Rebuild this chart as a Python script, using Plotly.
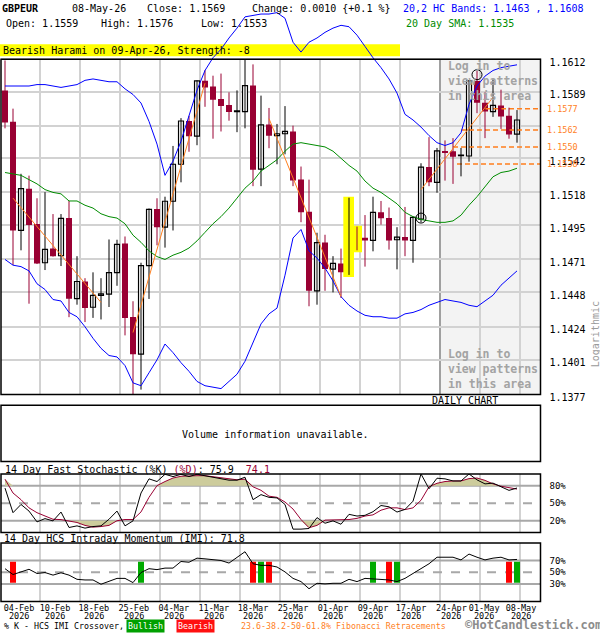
import math
import plotly.graph_objects as go

# ---------------- data ----------------
opens = [1.15899, 1.15678, 1.14913, 1.15206, 1.14959, 1.14687, 1.14786, 1.14736, 1.15000, 1.14436,
         1.14556, 1.14376, 1.14459, 1.14468, 1.14618, 1.14821, 1.14309, 1.14049, 1.14667, 1.15063,
         1.14936, 1.15118, 1.15378, 1.15683, 1.15576, 1.15968, 1.15926, 1.15839, 1.15795, 1.15749,
         1.15749, 1.15933, 1.15344, 1.15659, 1.15579, 1.15593, 1.15609, 1.15270, 1.15044, 1.14491,
         1.14828, 1.14643, 1.14682, 1.14620, 1.14931, 1.14862, 1.14843, 1.15040, 1.15000, 1.14848,
         1.14867, 1.14843, 1.14993, 1.15358, 1.15251, 1.15472, 1.15470, 1.15438, 1.15436, 1.15966,
         1.15811, 1.15749, 1.15793, 1.15719, 1.15590]
highs = [1.16111, 1.15770, 1.15311, 1.15298, 1.15139, 1.15182, 1.15028, 1.15028, 1.15120, 1.14733,
         1.14579, 1.14620, 1.14579, 1.14850, 1.14848, 1.14871, 1.14418, 1.14687, 1.15067, 1.15139,
         1.15150, 1.15507, 1.15703, 1.15719, 1.15970, 1.16042, 1.16003, 1.16018, 1.15885, 1.15899,
         1.16115, 1.16083, 1.15862, 1.15775, 1.15662, 1.15788, 1.15650, 1.15362, 1.15270, 1.14897,
         1.14883, 1.14733, 1.14786, 1.15143, 1.14940, 1.15021, 1.15150, 1.15120, 1.15074, 1.14936,
         1.15078, 1.15010, 1.15385, 1.15569, 1.15493, 1.15546, 1.15562, 1.15493, 1.15970, 1.16037,
         1.15885, 1.15977, 1.15904, 1.15777, 1.15760]
lows = [1.15631, 1.14671, 1.14774, 1.14401, 1.14678, 1.14636, 1.14730, 1.14664, 1.14307, 1.14394,
        1.14273, 1.14302, 1.14291, 1.14378, 1.14526, 1.14180, 1.13772, 1.13803, 1.14434, 1.14809,
        1.14793, 1.14913, 1.15251, 1.15466, 1.15512, 1.15783, 1.15558, 1.15609, 1.15685, 1.15604,
        1.15631, 1.15224, 1.15224, 1.15491, 1.15378, 1.15448, 1.15224, 1.14971, 1.14383, 1.14394,
        1.14491, 1.14480, 1.14441, 1.14602, 1.14774, 1.14660, 1.14767, 1.14954, 1.14779, 1.14641,
        1.14733, 1.14687, 1.14971, 1.15224, 1.15178, 1.15263, 1.15240, 1.15293, 1.15396, 1.15738,
        1.15562, 1.15712, 1.15627, 1.15558, 1.15530]
closes = [1.15673, 1.14913, 1.15206, 1.14952, 1.14682, 1.14781, 1.14733, 1.14998, 1.14436, 1.14556,
          1.14371, 1.14459, 1.14470, 1.14618, 1.14816, 1.14302, 1.14049, 1.14667, 1.15061, 1.14936,
          1.15118, 1.15378, 1.15683, 1.15576, 1.15966, 1.15920, 1.15832, 1.15788, 1.15747, 1.15754,
          1.15933, 1.15339, 1.15655, 1.15579, 1.15593, 1.15609, 1.15263, 1.15040, 1.14491, 1.14828,
          1.14643, 1.14682, 1.14620, 1.14931, 1.14860, 1.14843, 1.15040, 1.14998, 1.14843, 1.14867,
          1.14843, 1.15005, 1.15358, 1.15251, 1.15472, 1.15463, 1.15431, 1.15443, 1.15966, 1.15811,
          1.15749, 1.15793, 1.15714, 1.15588, 1.15690]

upper_band = [1.1593, 1.1593, 1.1593, 1.1593, 1.1594, 1.1594, 1.1593, 1.1592, 1.1593, 1.1594,
              1.1597, 1.1598, 1.1597, 1.1596, 1.1596, 1.1591, 1.1587, 1.1581, 1.1568, 1.1552,
              1.1530, 1.1540, 1.1554, 1.1572, 1.1590, 1.1604, 1.1613, 1.1619, 1.1627, 1.1634,
              1.1642, 1.1643, 1.1644, 1.1644, 1.1645, 1.1641, 1.1624, 1.1617, 1.1624, 1.1627,
              1.1631, 1.1634, 1.1636, 1.1635, 1.1629, 1.1621, 1.1613, 1.1606, 1.1598, 1.1588,
              1.1573, 1.1569, 1.1564, 1.1558, 1.1553, 1.1551, 1.1553, 1.1560, 1.1580, 1.1593,
              1.1600, 1.1604, 1.1606, 1.1607, 1.1608]
lower_band = [1.1471, 1.1467, 1.1466, 1.1463, 1.1454, 1.1450, 1.1443, 1.1442, 1.1434, 1.1431,
              1.1424, 1.1416, 1.1409, 1.1404, 1.1403, 1.1397, 1.1385, 1.1383, 1.1392, 1.1401,
              1.1412, 1.1406, 1.1399, 1.1393, 1.1386, 1.1383, 1.1382, 1.1381, 1.1386, 1.1391,
              1.1400, 1.1413, 1.1426, 1.1433, 1.1437, 1.1460, 1.1486, 1.1492, 1.1477, 1.1472,
              1.1465, 1.1456, 1.1445, 1.1439, 1.1435, 1.1432, 1.1431, 1.1431, 1.1430, 1.1430,
              1.1433, 1.1434, 1.1436, 1.1439, 1.1441, 1.1443, 1.1442, 1.1441, 1.1439, 1.1438,
              1.1442, 1.1446, 1.1453, 1.1458, 1.1463]
sma20 = [1.1532, 1.1531, 1.1530, 1.1527, 1.1524, 1.1520, 1.1518, 1.1517, 1.1512, 1.1512,
         1.1509, 1.1507, 1.1503, 1.1501, 1.1500, 1.1496, 1.1488, 1.1483, 1.1477, 1.1473,
         1.1471, 1.1474, 1.1476, 1.1479, 1.1484, 1.1490, 1.1496, 1.1501, 1.1507, 1.1514,
         1.1521, 1.1526, 1.1533, 1.1537, 1.1541, 1.1547, 1.1552, 1.1553, 1.1552, 1.1551,
         1.1550, 1.1547, 1.1542, 1.1537, 1.1533, 1.1526, 1.1521, 1.1518, 1.1514, 1.1510,
         1.1504, 1.1501, 1.1499, 1.1498, 1.1497, 1.1497, 1.1498, 1.1502, 1.1509, 1.1515,
         1.1522, 1.1529, 1.1532, 1.1533, 1.1535]

stoch_k = [75.8, 33.7, 47.8, 36.5, 18.0, 23.6, 19.7, 34.8, 8.4, 11.2,
           7.3, 10.0, 11.2, 22.5, 36.5, 11.2, 19.7, 67.4, 91.6, 87.0,
           99.4, 95.5, 99.4, 95.5, 99.4, 97.0, 93.8, 91.6, 89.3, 89.3,
           94.4, 56.0, 64.6, 60.0, 59.0, 47.8, 5.6, 5.6, 6.7, 25.3,
           15.7, 19.7, 14.0, 30.9, 28.0, 29.2, 35.4, 46.0, 43.8, 34.8,
           39.3, 53.4, 100.0, 74.7, 92.7, 91.6, 88.0, 88.0, 100.0, 89.9,
           83.0, 84.3, 77.5, 71.9, 75.9]
stoch_d = [91.0, 67.4, 56.0, 42.0, 33.7, 28.0, 22.5, 21.9, 20.0, 17.0,
           12.0, 9.0, 10.0, 12.0, 20.0, 22.0, 22.0, 35.0, 60.0, 80.0,
           87.0, 93.0, 96.0, 97.0, 97.0, 97.0, 95.0, 93.0, 91.0, 90.0,
           91.0, 78.0, 72.0, 62.0, 60.0, 52.0, 40.0, 22.0, 8.0, 12.0,
           21.0, 21.5, 21.0, 22.0, 24.0, 28.0, 30.0, 38.0, 42.0, 42.0,
           39.0, 42.0, 55.0, 78.0, 84.0, 87.0, 88.0, 88.0, 92.0, 93.0,
           89.0, 83.0, 79.0, 77.0, 74.1]
imi = [56.0, 46.0, 50.5, 55.0, 47.8, 49.4, 45.0, 49.0, 45.0, 37.8,
       36.7, 36.7, 29.4, 33.9, 39.4, 39.4, 32.2, 49.4, 56.0, 54.4,
       57.0, 57.0, 68.3, 67.0, 74.0, 72.8, 71.7, 70.0, 65.6, 75.6,
       85.0, 64.4, 61.7, 61.7, 58.9, 50.5, 39.4, 33.9, 21.7, 31.0,
       30.0, 31.0, 31.0, 37.8, 33.9, 39.4, 38.3, 38.3, 36.7, 33.9,
       39.4, 47.8, 56.0, 64.4, 75.6, 75.6, 75.6, 71.0, 81.0, 75.6,
       71.0, 74.0, 75.6, 71.0, 71.8]
bull_cross = [17, 32, 46, 49, 64]
bear_cross = [1, 31, 33, 48, 63]

fib_levels = [1.1577, 1.1562, 1.1550, 1.1538]
fib_start = [60, 57, 56, 56.5]
fib_anchors = [(59, 1.1601), (52, 1.1500)]
trend_lines = [(1, 1.1514, 12, 1.1441), (16, 1.1420, 25, 1.1595),
               (33, 1.1570, 42, 1.1445), (52, 1.1520, 61, 1.1585)]
harami = [43, 44]

price_ticks = [1.1377, 1.1401, 1.1424, 1.1448, 1.1471, 1.1495, 1.1518, 1.1542, 1.1565, 1.1589, 1.1612]
price_tick_text = ["1.1377", "1.1401", "1.1424", "1.1448", "1.1471", "1.1495", "1.1518", "1.1542", "", "1.1589", "1.1612"]
date_days = ["04-Feb", "10-Feb", "18-Feb", "25-Feb", "04-Mar", "11-Mar", "18-Mar", "25-Mar",
             "01-Apr", "09-Apr", "17-Apr", "24-Apr", "01-May", "08-May"]
date_years = ["2026"] * 14
date_label_at = [1.75, 6.25, 11.1, 16.1, 21.1, 26.1, 31.0, 36.0, 41.0, 46.0, 50.75, 55.8, 59.9, 64.5]

# ---------------- layout helpers (pixel geometry of the page) ----------------
W, H = 600, 640
def pxf(x): return x / W
def pyf(y): return 1 - y / H
def xi(x): return (x - 5) / 8.0          # page pixel -> candle-slot units
PL, PR = 1, 540.5
X_LO, X_HI = xi(PL), xi(PR)

MONO = "DejaVu Sans Mono, Liberation Mono, monospace"
RED = "#990033"
ORANGE = "#ff7f1e"
GRID = "#d2d2d2"

lo = math.log10(price_ticks[0])
per_px = (math.log10(price_ticks[-1]) - lo) / 340.0
y_range = [lo, lo + per_px * 395.0]

n = len(opens)
xs = list(range(n))
fig = go.Figure()

# harami highlight boxes
for j, idx in enumerate(harami):
    l = idx - (0.71 if j == 0 else 0.375)
    r = idx + 0.625
    b = lows[idx] * 10 ** (-per_px * 2)
    t = highs[idx] * 10 ** (per_px * 1)
    fig.add_trace(go.Scatter(x=[l, r, r, l, l], y=[b, b, t, t, b], mode="lines", fill="toself",
                             fillcolor="#ffff00", line=dict(width=0, color="#ffff00"),
                             hoverinfo="skip", showlegend=False, xaxis="x", yaxis="y"))

# fibonacci retracement levels (behind the candles)
for lv, st in zip(fib_levels, fib_start):
    fig.add_trace(go.Scatter(x=[st, X_HI + 0.3], y=[lv, lv], mode="lines",
                             line=dict(color=ORANGE, width=1.5, dash="5px,3px"),
                             showlegend=False, xaxis="x", yaxis="y"))

# wicks
for bull in (True, False):
    wx, wy = [], []
    for i in xs:
        if (closes[i] >= opens[i]) == bull:
            wx += [i, i, None]
            wy += [lows[i], highs[i], None]
    fig.add_trace(go.Scatter(x=wx, y=wy, mode="lines", line=dict(color="black" if bull else RED, width=1),
                             hoverinfo="skip", showlegend=False, xaxis="x", yaxis="y"))

# bodies
for bull in (True, False):
    bx = [i for i in xs if (closes[i] >= opens[i]) == bull]
    fig.add_trace(go.Bar(x=bx, base=[min(opens[i], closes[i]) for i in bx],
                         y=[abs(closes[i] - opens[i]) for i in bx],
                         width=0.62 if bull else 0.75,
                         marker=dict(color="white" if bull else RED,
                                     line=dict(color="black" if bull else RED, width=1.2 if bull else 0)),
                         hoverinfo="skip", showlegend=False, xaxis="x", yaxis="y"))

# bands and SMA
fig.add_trace(go.Scatter(x=xs, y=upper_band, mode="lines", line=dict(color="#0000ff", width=1),
                         showlegend=False, xaxis="x", yaxis="y"))
fig.add_trace(go.Scatter(x=xs, y=lower_band, mode="lines", line=dict(color="#0000ff", width=1),
                         showlegend=False, xaxis="x", yaxis="y"))
fig.add_trace(go.Scatter(x=xs, y=sma20, mode="lines", line=dict(color="#008c00", width=1),
                         showlegend=False, xaxis="x", yaxis="y"))

# trend lines
tx, ty = [], []
for a, pa, b, pb in trend_lines:
    tx += [a, b, None]
    ty += [pa, pb, None]
fig.add_trace(go.Scatter(x=tx, y=ty, mode="lines", line=dict(color=ORANGE, width=1),
                         showlegend=False, xaxis="x", yaxis="y"))

# anchor circles
fig.add_trace(go.Scatter(x=[a[0] for a in fib_anchors], y=[a[1] for a in fib_anchors], mode="markers",
                         marker=dict(symbol="circle-open", size=10, color="black", line=dict(width=1)),
                         showlegend=False, xaxis="x", yaxis="y"))

# ---- stochastic panel ----
hi_fill = [max(v, 80) for v in stoch_d]
lo_fill = [min(v, 20) for v in stoch_d]
fig.add_trace(go.Scatter(x=xs, y=[80] * n, mode="lines", line=dict(width=0), showlegend=False,
                         hoverinfo="skip", xaxis="x2", yaxis="y2"))
fig.add_trace(go.Scatter(x=xs, y=hi_fill, mode="lines", line=dict(width=0), fill="tonexty",
                         fillcolor="#cdcc9c", showlegend=False, hoverinfo="skip", xaxis="x2", yaxis="y2"))
fig.add_trace(go.Scatter(x=xs, y=[20] * n, mode="lines", line=dict(width=0), showlegend=False,
                         hoverinfo="skip", xaxis="x2", yaxis="y2"))
fig.add_trace(go.Scatter(x=xs, y=lo_fill, mode="lines", line=dict(width=0), fill="tonexty",
                         fillcolor="#cdcc9c", showlegend=False, hoverinfo="skip", xaxis="x2", yaxis="y2"))
fig.add_trace(go.Scatter(x=xs, y=stoch_d, mode="lines", line=dict(color=RED, width=1),
                         showlegend=False, xaxis="x2", yaxis="y2"))
fig.add_trace(go.Scatter(x=xs, y=stoch_k, mode="lines", line=dict(color="black", width=1),
                         showlegend=False, xaxis="x2", yaxis="y2"))

# ---- IMI panel ----
fig.add_trace(go.Bar(x=bull_cross, y=[36] * len(bull_cross), base=32, width=0.75,
                     marker=dict(color="#00aa00", line=dict(width=0)), showlegend=False,
                     xaxis="x3", yaxis="y3"))
fig.add_trace(go.Bar(x=bear_cross, y=[36] * len(bear_cross), base=32, width=0.75,
                     marker=dict(color="#ff0000", line=dict(width=0)), showlegend=False,
                     xaxis="x3", yaxis="y3"))
fig.add_trace(go.Scatter(x=xs, y=imi, mode="lines", line=dict(color="black", width=1),
                         showlegend=False, xaxis="x3", yaxis="y3"))

# ---------------- shapes ----------------
shapes = []
shapes.append(dict(type="rect", xref="paper", yref="paper", x0=pxf(0), x1=pxf(400), y0=pyf(57), y1=pyf(45),
                   fillcolor="#ffff00", line=dict(width=0), layer="below"))
shade_x = xi(440.5)
shapes.append(dict(type="rect", xref="x", yref="paper", x0=shade_x, x1=X_HI, y0=pyf(400), y1=pyf(60),
                   fillcolor="#f3f3f3", line=dict(width=0), layer="below"))
panels = [(60, 400), (480.7, 540), (550.7, 610)]
for k in range(1, 14):
    gx = xi(40 * k)
    for (t, b) in panels:
        col = "#a0a0a0" if (k == 11 and t == 60) else GRID
        shapes.append(dict(type="line", xref="x", yref="paper", x0=gx, x1=gx, y0=pyf(b), y1=pyf(t),
                           line=dict(color=col, width=2), layer="below"))
for lvl, dash in ((80, "solid"), (50, "dash"), (20, "solid")):
    shapes.append(dict(type="line", xref="paper", yref="y2", x0=pxf(PL), x1=pxf(PR), y0=lvl, y1=lvl,
                       line=dict(color="#a8a8a8", width=2, dash=dash), layer="below"))
for lvl, dash in ((70, "solid"), (50, "dash"), (30, "solid")):
    shapes.append(dict(type="line", xref="paper", yref="y3", x0=pxf(PL), x1=pxf(PR), y0=lvl, y1=lvl,
                       line=dict(color="#a8a8a8", width=2, dash=dash), layer="below"))
for (t, b) in [(60, 400), (411, 468), (480.7, 540), (550.7, 610)]:
    shapes.append(dict(type="rect", xref="paper", yref="paper", x0=pxf(PL), x1=pxf(PR), y0=pyf(b), y1=pyf(t),
                       line=dict(color="black", width=1.5), fillcolor="rgba(0,0,0,0)", layer="above"))

# ---------------- annotations ----------------
ann = []
def txt(x, y, s, size=10, color="black", bold=False, anchor="left", **kw):
    d = dict(xref="paper", yref="paper", x=pxf(x), y=pyf(y), text=("<b>%s</b>" % s) if bold else s,
             showarrow=False, xanchor=anchor, yanchor="middle",
             font=dict(family=MONO, size=size, color=color))
    d.update(kw)
    ann.append(d)

txt(0, 9, "GBPEUR", bold=True)
txt(70, 9, "08-May-26")
txt(145, 9, "Close: 1.1569")
txt(250, 9, "Change: 0.0010 {+0.1 %}")
txt(401, 9, "20,2 HC Bands: 1.1463 , 1.1608", color="#0000ff")
txt(4, 24, "Open: 1.1559")
txt(99, 24, "High: 1.1576")
txt(199, 24, "Low: 1.1553")
txt(404, 24, "20 Day SMA: 1.1535", color="#008c00")
txt(1, 51, "Bearish Harami on 09-Apr-26, Strength: -8")

for yy, s in ((67, "Log in to"), (82, "view patterns"), (97, "in this area"),
              (359, "Log in to"), (374, "view patterns"), (389, "in this area")):
    txt(446, yy, s, size=11.5, color="#a3a3a3", bold=True)

for lv in fib_levels:
    ann.append(dict(xref="paper", yref="y", x=pxf(545), y=math.log10(lv), text="%.4f" % lv, showarrow=False,
                    xanchor="left", yanchor="middle", font=dict(family=MONO, size=8.5, color=ORANGE)))

# second line of the date axis labels (year)
for pos, yr in zip(date_label_at, date_years):
    ann.append(dict(xref="x3", yref="paper", x=pos, y=pyf(625), text=yr, showarrow=False,
                    xanchor="center", yanchor="middle", font=dict(family=MONO, size=8.5, color="black")))

txt(595, 339, "Logarithmic", color="#9a9a9a", anchor="center", textangle=-90)
txt(430, 406, "DAILY CHART")
txt(275, 441, "Volume information unavailable.", anchor="center")
txt(3, 476, "14 Day Fast Stochastic (%K) <span style='color:#990033'>(%D)</span>: 75.9  "
            "<span style='color:#990033'>74.1</span>")
txt(2, 546, "14 Day HCS Intraday Momentum (IMI): 71.8")
txt(2, 635, "% K - HCS IMI Crossover,", size=8.3)
txt(126, 635, "Bullish", size=8.3, color="white", bgcolor="#00a000", borderpad=1)
txt(176, 635, "Bearish", size=8.3, color="white", bgcolor="#ff1010", borderpad=1)
txt(239, 635, "23.6-38.2-50-61.8% Fibonacci Retracements", size=8.3, color=ORANGE)
txt(463, 634, "©HotCandlestick.com", size=12, color="#8c8c8c", bold=True)

# ---------------- axes ----------------
xcommon = dict(range=[X_LO, X_HI], domain=[pxf(PL), pxf(PR)], showgrid=False, zeroline=False,
               showline=False, fixedrange=True)
fig.update_layout(
    width=W, height=H, margin=dict(l=0, r=0, t=0, b=0),
    paper_bgcolor="white", plot_bgcolor="rgba(0,0,0,0)",
    barmode="overlay", showlegend=False,
    xaxis=dict(**xcommon, anchor="y", showticklabels=False),
    xaxis2=dict(**xcommon, anchor="y2", matches="x", showticklabels=False),
    xaxis3=dict(**xcommon, anchor="y3", matches="x", tickmode="array", tickvals=date_label_at,
                ticktext=date_days, ticks="", tickangle=0, ticklabelstandoff=0,
                tickfont=dict(family=MONO, size=8.5, color="black")),
    yaxis=dict(type="log", domain=[pyf(400), pyf(5)], range=y_range, side="right", anchor="x",
               tickmode="array", tickvals=price_ticks, ticktext=price_tick_text, showgrid=True,
               gridcolor=GRID, gridwidth=2, zeroline=False, showline=False, ticks="",
               ticklabelstandoff=8, ticklabelshift=3,
               tickfont=dict(family=MONO, size=10, color="black"), fixedrange=True),
    yaxis2=dict(domain=[pyf(540), pyf(480.7)], range=[0, 100], side="right", anchor="x2",
                tickmode="array", tickvals=[80, 50, 20], ticktext=["80%", "50%", "20%"], showgrid=False,
                zeroline=False, showline=False, ticks="", ticklabelstandoff=8,
                tickfont=dict(family=MONO, size=9, color="black"), fixedrange=True),
    yaxis3=dict(domain=[pyf(610), pyf(550.7)], range=[0, 100], side="right", anchor="x3",
                tickmode="array", tickvals=[70, 50, 30], ticktext=["70%", "50%", "30%"], showgrid=False,
                zeroline=False, showline=False, ticks="", ticklabelstandoff=8,
                tickfont=dict(family=MONO, size=9, color="black"), fixedrange=True),
    shapes=shapes, annotations=ann,
)

fig.write_html("out.html", config={"displayModeBar": False, "responsive": False},
               post_script="document.body.style.margin='0px';document.body.style.overflow='hidden';")
